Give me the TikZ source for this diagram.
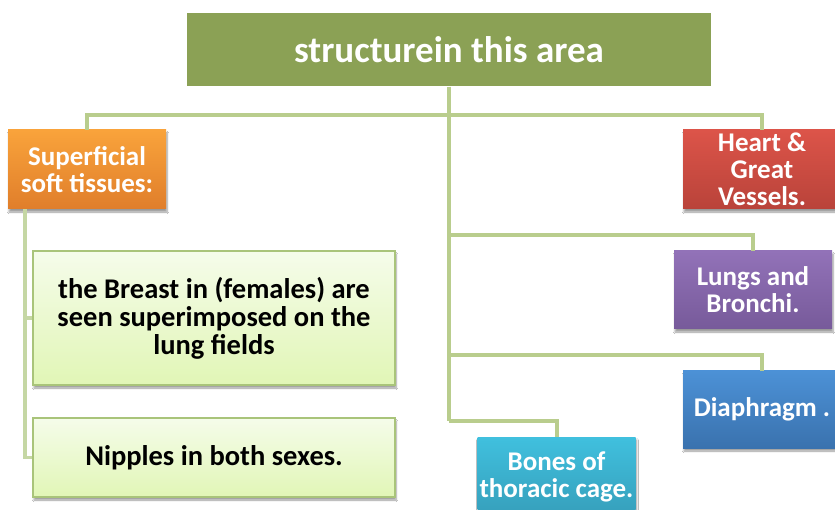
\documentclass[tikz,border=0pt]{standalone}
\usepackage{fontspec}
\setmainfont{Carlito}
\usetikzlibrary{shadows.blur}
\definecolor{linec}{HTML}{B9CD8D}
\definecolor{linec2}{HTML}{C5D7A4}
\definecolor{titlec}{HTML}{8BA155}
\definecolor{lgtop}{HTML}{F5FCEA}
\definecolor{lgbot}{HTML}{E1F6B6}
\definecolor{lgbord}{HTML}{A9C47A}
\definecolor{ortop}{HTML}{F9A33B}
\definecolor{orbot}{HTML}{E07E2B}
\definecolor{rdtop}{HTML}{DC5449}
\definecolor{rdbot}{HTML}{B9433A}
\definecolor{pptop}{HTML}{9272B8}
\definecolor{ppbot}{HTML}{775A9A}
\definecolor{bltop}{HTML}{4C91D6}
\definecolor{blbot}{HTML}{3A72AE}
\definecolor{cytop}{HTML}{40C0DE}
\definecolor{cybot}{HTML}{369FBB}
\tikzset{
  conn/.style={draw=linec, line width=4pt},
  softshadow/.style={blur shadow={shadow xshift=1pt, shadow yshift=-3pt, shadow blur steps=6, shadow opacity=40}},
  colbox/.style 2 args={minimum width=158pt, minimum height=79pt, inner sep=0pt, align=center,
    text=white, font=\fontsize{27}{27}\selectfont\bfseries, top color=#1, bottom color=#2, softshadow},
  greenbox/.style={minimum width=362pt, inner sep=0pt, align=center, draw=lgbord, line width=1.2pt,
    top color=lgtop, bottom color=lgbot, text=black, font=\fontsize{28.5}{28}\selectfont\bfseries, softshadow},
}
\begin{document}
\begin{tikzpicture}[x=1pt,y=-1pt]
\useasboundingbox (0,0) rectangle (835,510);
\clip (0,0) rectangle (835,510);
\fill[white] (0,0) rectangle (835,510);
% nodes
\node[minimum width=524pt, minimum height=73pt, inner sep=0pt, fill=titlec, text=white,
  font=\fontsize{37}{40}\selectfont\bfseries] (title) at (449,50) {structurein this area};
\node[colbox={ortop}{orbot}] (super) at (87,169.5) {Superficial\\soft tissues:};
\node[colbox={rdtop}{rdbot}] (heart) at (762,169.5) {Heart \&\\Great\\Vessels.};
\node[colbox={pptop}{ppbot}, minimum height=78pt] (lungs) at (753,290) {Lungs and\\Bronchi.};
\node[colbox={bltop}{blbot}, minimum height=77pt] (diaph) at (762,409.5) {Diaphragm .};
\node[colbox={cytop}{cybot}] (bones) at (556.5,476.5) {Bones of\\thoracic cage.};
\node[greenbox, minimum height=134pt] (breast) at (214,318) {the Breast in (females) are\\seen superimposed on the\\lung fields};
\node[greenbox, minimum height=79pt] (nipples) at (214,457.5) {Nipples in both sexes.};
% coordinates of connector bends
\coordinate (bar) at (449,115);
\coordinate (b2) at (449,235);
\coordinate (b3) at (449,355);
\coordinate (b4) at (449,421);
\coordinate (l0) at (25,209);
% connectors
\draw[conn] (title.south) -- (b4);
\draw[conn] (super.north) |- (bar) -| (heart.north);
\draw[conn] (b2) -| (lungs.north);
\draw[conn] (b3) -| (diaph.north);
\draw[conn] (b4) -| (bones.north);
\draw[conn, draw=linec2, line width=3.5pt] (l0) |- (nipples.west);
\draw[conn, draw=linec2, line width=3.5pt] (l0 |- breast.west) -- (breast.west);
\end{tikzpicture}
\end{document}
